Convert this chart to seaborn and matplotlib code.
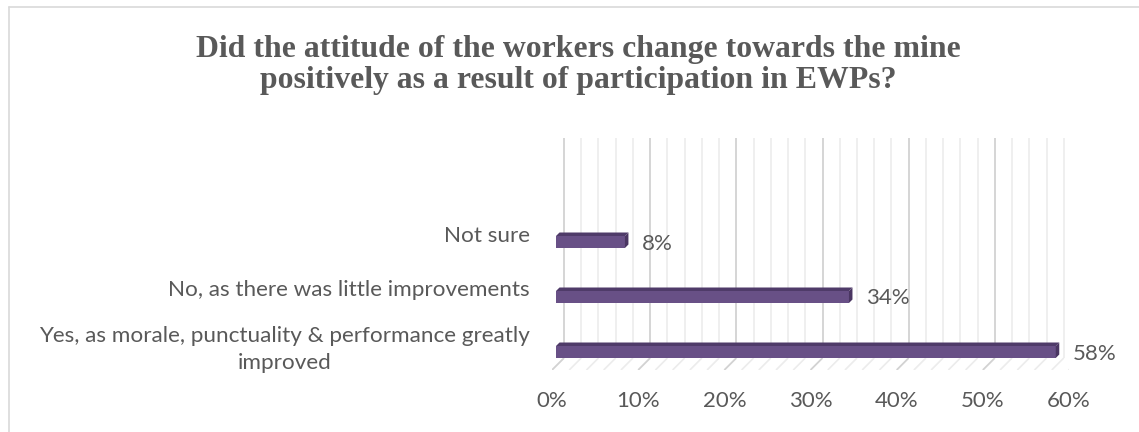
import matplotlib
matplotlib.use("Agg")
import matplotlib.pyplot as plt
import numpy as np
import pandas as pd
import seaborn as sns
from matplotlib.patches import Polygon
from matplotlib.lines import Line2D
from matplotlib.transforms import ScaledTranslation

# Survey responses
categories = [
    "Not sure",
    "No, as there was little improvements",
    "Yes, as morale, punctuality & performance greatly\nimproved",
]
shares = [0.08, 0.34, 0.58]
value_labels = ["8%", "34%", "58%"]
xtick_values = [0.0, 0.1, 0.2, 0.3, 0.4, 0.5, 0.6]
xtick_labels = ["0%", "10%", "20%", "30%", "40%", "50%", "60%"]
title_lines = [
    "Did the attitude of the workers change towards the mine",
    "positively as a result of participation in EWPs?",
]

W, H = 1139, 432
TEXT = "#595959"
FRONT = "#685086"
TOP = "#4F3B69"
SIDE = "#4A3662"
MAJOR = "#D2D2D2"
MINOR = "#ECECEC"

sns.set_theme(style="white")
plt.rcParams["font.family"] = ["Lato", "DejaVu Sans"]

fig = plt.figure(figsize=(W / 100, H / 100), dpi=100)
fig.patch.set_facecolor("white")

# plot area (front plane) in pixels
left_px, right_px, top_px, bottom_px = 552, 1069, 138, 370
ax = fig.add_axes([left_px / W, (H - bottom_px) / H,
                   (right_px - left_px) / W, (bottom_px - top_px) / H])

df = pd.DataFrame({"category": categories, "share": shares})
row_px = 55.0
bar_px = 12.0
sns.barplot(data=df, x="share", y="category", order=categories, color=FRONT,
            saturation=1, width=bar_px / row_px, edgecolor="none", ax=ax,
            zorder=3)

ax.set_xlim(0, 0.6)
ax.set_ylim(2 + 18 / row_px, -104 / row_px)

dxp = 0.6 / (right_px - left_px)   # data x per pixel
dyp = 1.0 / row_px                 # data y per pixel
depth = 12                         # depth of the back wall in pixels
bar_depth = 3.5
bar_shift = 4

# back wall gridlines and floor diagonals
floor_back = 2 + 6 / row_px
floor_front = 2 + 18 / row_px
y_top = -104 / row_px
minor_vals = np.arange(0, 0.6001, 0.02)
for v in minor_vals:
    is_major = abs(round(v * 10) - v * 10) < 1e-6
    col = MAJOR if is_major else MINOR
    lw = 1.3 if is_major else 1.2
    xb = v + depth * dxp
    ax.plot([xb, xb], [y_top, floor_back], color=col, lw=lw, zorder=1,
            solid_capstyle="butt")
    ax.plot([xb, v], [floor_back, floor_front], color=col, lw=lw, zorder=1,
            solid_capstyle="butt")

# give bars a 3D look: shifted front face, top face and right side face
shift = ScaledTranslation(bar_shift / 100, 0, fig.dpi_scale_trans)
for p in list(ax.patches):
    x0, y0, w, h = p.get_x(), p.get_y(), p.get_width(), p.get_height()
    p.set_transform(ax.transData + shift)
    bx, by = bar_depth * dxp, bar_depth * dyp
    top = Polygon([(x0, y0), (x0 + bx, y0 - by), (x0 + w + bx, y0 - by), (x0 + w, y0)],
                  closed=True, facecolor=TOP, edgecolor="none", zorder=3,
                  transform=ax.transData + shift)
    side = Polygon([(x0 + w, y0), (x0 + w + bx, y0 - by), (x0 + w + bx, y0 + h - by),
                    (x0 + w, y0 + h)],
                   closed=True, facecolor=SIDE, edgecolor="none", zorder=3,
                   transform=ax.transData + shift)
    ax.add_patch(top)
    ax.add_patch(side)

# value labels
for i, (v, lab) in enumerate(zip(shares, value_labels)):
    ax.annotate(lab, xy=(v, i), xytext=(21 * 0.72, -1.5 * 0.72),
                textcoords="offset points", ha="left", va="center",
                fontsize=16, color=TEXT, zorder=4)

ax.set_xticks(xtick_values)
ax.set_xticklabels(xtick_labels)
ax.set_xlabel("")
ax.set_ylabel("")
ax.tick_params(axis="x", length=0, pad=15, labelsize=16, labelcolor=TEXT)
ax.tick_params(axis="y", length=0, pad=16, labelsize=16.2, labelcolor=TEXT)
for t in ax.get_yticklabels():
    t.set_multialignment("center")
    t.set_linespacing(1.45)
    t.set_transform(t.get_transform() + ScaledTranslation(0, 8.5 / 100, fig.dpi_scale_trans))
for s in ax.spines.values():
    s.set_visible(False)
ax.grid(False)
ax.set_facecolor("none")

# title
for k, line in enumerate(title_lines):
    fig.text(578 / W, 1 - (57 + 31 * k) / H, line, ha="center", va="baseline",
             fontsize=22.9, fontweight="bold", color=TEXT,
             family=["Liberation Serif", "DejaVu Serif"])

# chart border
fig.add_artist(Line2D([8.5 / W, 8.5 / W], [0, 1 - 6.5 / H], color="#D9D9D9",
                      lw=1.2, transform=fig.transFigure))
fig.add_artist(Line2D([8.5 / W, 1], [1 - 6.5 / H, 1 - 6.5 / H], color="#D9D9D9",
                      lw=1.2, transform=fig.transFigure))

fig.savefig("out.png", dpi=100)
